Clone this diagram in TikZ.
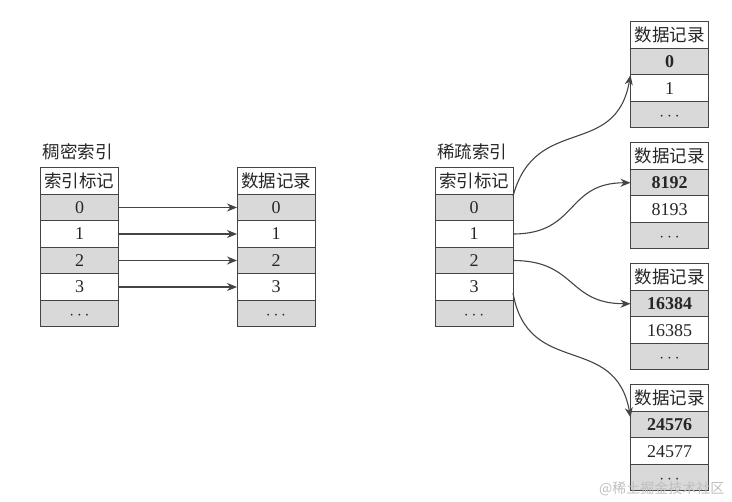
\documentclass[tikz,border=0pt]{standalone}
\usepackage{fontspec}
\setmainfont{Liberation Serif}
\newfontfamily\cjk{Noto Sans CJK SC}
\usepackage{xcolor}
\usepackage{tikz}
\usetikzlibrary{arrows.meta, positioning}

\definecolor{linegray}{HTML}{444444}
\definecolor{cellgray}{HTML}{D9D9D9}

\tikzset{
  boxbase/.style={draw=linegray, line width=1pt, minimum width=78pt, minimum height=26.5pt, inner sep=0pt, outer sep=0pt, text=black!85},
  hdr/.style={boxbase, fill=white, font=\cjk\fontsize{17.5}{18}\selectfont},
  whiterow/.style={boxbase, fill=white, text height=12pt, text depth=0pt, font=\fontsize{18}{18}\selectfont},
  grayrow/.style={whiterow, fill=cellgray},
  tabletitle/.style={font=\cjk\fontsize{17.5}{18}\selectfont, text=black!85, inner sep=0pt, anchor=base west},
  link/.style={draw=linegray, line width=1.1pt, -{Stealth[length=10pt, width=8pt]}}
}

\begin{document}
\begin{tikzpicture}[x=1pt, y=1pt]
    \useasboundingbox (0,0) rectangle (732,-502);

    % Dense index
    \node[hdr] (dh) at (79.5,-181) {索引标记};
    \node[grayrow, below=0pt of dh] (d0) {0};
    \node[whiterow, below=0pt of d0] (d1) {1};
    \node[grayrow, below=0pt of d1] (d2) {2};
    \node[whiterow, below=0pt of d2] (d3) {3};
    \node[grayrow, below=0pt of d3] (d4) {$\cdots$};
    \node[tabletitle] (dt) at ([shift={(2pt,9pt)}]dh.north west) {稠密索引};

    % Records of the dense index
    \node[hdr] (rh) at (276,-181) {数据记录};
    \node[grayrow, below=0pt of rh] (r0) {0};
    \node[whiterow, below=0pt of r0] (r1) {1};
    \node[grayrow, below=0pt of r1] (r2) {2};
    \node[whiterow, below=0pt of r2] (r3) {3};
    \node[grayrow, below=0pt of r3] (r4) {$\cdots$};

    \draw[link] (d0.east) -- (r0.west);
    \draw[link] (d1.east) -- (r1.west);
    \draw[link] (d2.east) -- (r2.west);
    \draw[link] (d3.east) -- (r3.west);

    % Sparse index
    \node[hdr] (sh) at (474,-181) {索引标记};
    \node[grayrow, below=0pt of sh] (s0) {0};
    \node[whiterow, below=0pt of s0] (s1) {1};
    \node[grayrow, below=0pt of s1] (s2) {2};
    \node[whiterow, below=0pt of s2] (s3) {3};
    \node[grayrow, below=0pt of s3] (s4) {$\cdots$};
    \node[tabletitle] (st) at ([shift={(2pt,9pt)}]sh.north west) {稀疏索引};

    % Record blocks of the sparse index
    \node[hdr] (ah) at (669.5,-35.25) {数据记录};
    \node[grayrow, below=0pt of ah] (a0) {\textbf{0}};
    \node[whiterow, below=0pt of a0] (a1) {1};
    \node[grayrow, below=0pt of a1] (a2) {$\cdots$};

    \node[hdr] (bh) at (669.5,-156.25) {数据记录};
    \node[grayrow, below=0pt of bh] (b0) {\textbf{8192}};
    \node[whiterow, below=0pt of b0] (b1) {8193};
    \node[grayrow, below=0pt of b1] (b2) {$\cdots$};

    \node[hdr] (ch) at (669.5,-277.25) {数据记录};
    \node[grayrow, below=0pt of ch] (c0) {\textbf{16384}};
    \node[whiterow, below=0pt of c0] (c1) {16385};
    \node[grayrow, below=0pt of c1] (c2) {$\cdots$};

    \node[hdr] (eh) at (669.5,-398.25) {数据记录};
    \node[grayrow, below=0pt of eh] (e0) {\textbf{24576}};
    \node[whiterow, below=0pt of e0] (e1) {24577};
    \node[grayrow, below=0pt of e1] (e2) {$\cdots$};

    \draw[link] ([yshift=-2pt]s0.north east) to[out=75, in=-100, looseness=1.3] (a0.south west);
    \draw[link] (s1.east) to[out=0, in=180, looseness=1.3] (b0.west);
    \draw[link] (s2.east) to[out=0, in=180, looseness=1.3] (c0.west);
    \draw[link] ([yshift=-6pt]s3.east) to[out=-80, in=100, looseness=1.3] ([yshift=-6pt]e0.north west);

    % Watermark
    \node[font=\cjk\fontsize{14}{14}\selectfont, text=black!25, anchor=east] (mark) at (728,-489) {@稀土掘金技术社区};
\end{tikzpicture}
\end{document}
